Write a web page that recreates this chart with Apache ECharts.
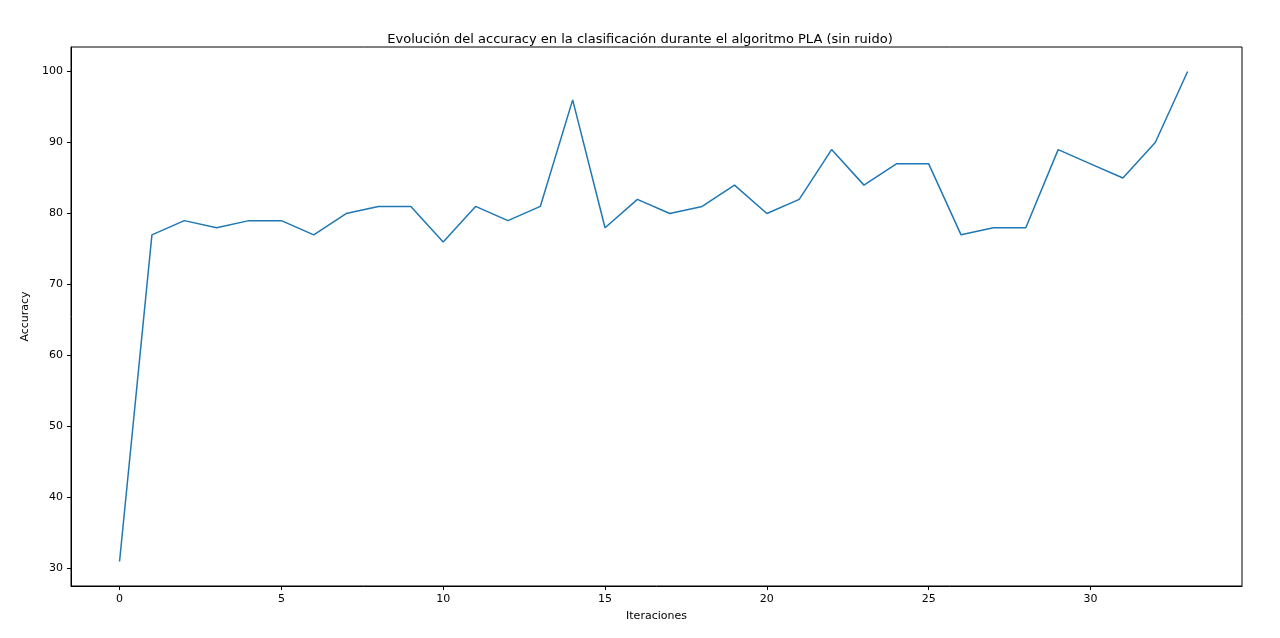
<!DOCTYPE html>
<html>
<head>
<meta charset="utf-8">
<script src="https://cdn.jsdelivr.net/npm/echarts@6/dist/echarts.min.js"></script>
<style>html,body{margin:0;background:#fff}#c{width:1280px;height:638px}</style>
</head>
<body>
<div id="c"></div>
<script>
const accuracy = [31, 77, 79, 78, 79, 79, 77, 80, 81, 81, 76, 81, 79, 81, 96, 78, 82, 80, 81, 84,
  80, 82, 89, 84, 87, 87, 77, 78, 78, 89, 87, 85, 90, 100]
const xTicks = [0, 5, 10, 15, 20, 25, 30]
const yTicks = [30, 40, 50, 60, 70, 80, 90, 100]

const font = 'DejaVu Sans'
const chart = echarts.init(document.getElementById('c'))
chart.setOption({
  animation: false,
  textStyle: {fontFamily: font},
  title: {
    text: 'Evolución del accuracy en la clasificación durante el algoritmo PLA (sin ruido)',
    left: 'center', top: 28,
    textStyle: {fontSize: 13, fontWeight: 'normal', color: '#000', fontFamily: font}
  },
  grid: {left: 71, right: 38, top: 47, bottom: 52, show: true, borderColor: '#000', borderWidth: 1},
  xAxis: {
    type: 'value', min: -1.5, max: 34.68,
    name: 'Iteraciones', nameLocation: 'middle', nameGap: 25,
    nameTextStyle: {fontSize: 11, color: '#000'},
    axisLine: {show: true, onZero: false, lineStyle: {color: '#000'}},
    axisTick: {show: true, inside: false, length: 4, lineStyle: {color: '#000'}, customValues: xTicks},
    axisLabel: {fontSize: 11, color: '#000', customValues: xTicks},
    splitLine: {show: false}
  },
  yAxis: {
    type: 'value', min: 27.55, max: 103.45,
    name: 'Accuracy', nameLocation: 'middle', nameGap: 40,
    nameTextStyle: {fontSize: 11, color: '#000'},
    axisLine: {show: true, onZero: false, lineStyle: {color: '#000'}},
    axisTick: {show: true, inside: false, length: 4, lineStyle: {color: '#000'}, customValues: yTicks},
    axisLabel: {fontSize: 11, color: '#000', customValues: yTicks},
    splitLine: {show: false}
  },
  series: [{
    type: 'line',
    data: accuracy.map((v, i) => [i, v]),
    showSymbol: false,
    lineStyle: {color: '#1f77b4', width: 1.5}
  }]
})
</script>
</body>
</html>
